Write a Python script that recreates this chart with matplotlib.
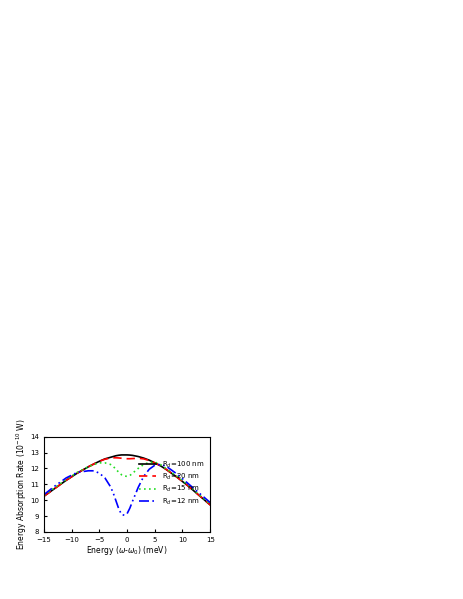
import matplotlib
matplotlib.use("Agg")
import matplotlib.pyplot as plt

x = [-15,-13,-11,-9,-7,-6,-5,-4,-3,-2.5,-2,-1.5,-1,-0.5,0,0.5,1,2,3,4,5,6,7,9,11,13,15]
r100 = [10.25,10.75,11.25,11.7,12.1,12.28,12.45,12.6,12.7,12.75,12.8,12.83,12.85,12.85,12.85,12.84,12.82,12.75,12.65,12.52,12.35,12.17,11.95,11.45,10.9,10.3,9.7]
r20  = [10.25,10.75,11.25,11.7,12.1,12.28,12.45,12.58,12.65,12.67,12.67,12.66,12.64,12.62,12.61,12.61,12.62,12.64,12.6,12.5,12.35,12.17,11.95,11.45,10.9,10.3,9.7]
r15  = [10.3,10.8,11.3,11.75,12.1,12.25,12.35,12.35,12.25,12.12,11.95,11.75,11.6,11.52,11.5,11.55,11.7,12.0,12.25,12.38,12.4,12.25,12.0,11.5,10.95,10.35,9.75]
r12  = [10.35,10.9,11.4,11.75,11.85,11.85,11.7,11.4,10.85,10.45,9.95,9.45,9.1,9.05,9.15,9.5,9.95,10.8,11.5,11.95,12.2,12.25,12.15,11.65,11.05,10.45,9.85]
labels = ["R$_d$=100 nm","R$_d$=20 nm","R$_d$=15 nm","R$_d$=12 nm"]

fig = plt.figure(figsize=(4.63,5.99), dpi=100)
ax = fig.add_axes([0.095,0.112,0.359,0.159])
ax.plot(x, r100, color="black", lw=1.2, label=labels[0])
ax.plot(x, r20, color="red", lw=1.2, ls=(0,(5,3)), label=labels[1])
ax.plot(x, r15, color="#22dd22", lw=1.2, ls=(0,(1,2)), label=labels[2])
ax.plot(x, r12, color="blue", lw=1.2, ls=(0,(6,2,1,2,1,2)), label=labels[3])
ax.set_xlim(-15,15); ax.set_ylim(8,14)
ax.set_xticks(range(-15,16,5)); ax.set_yticks(range(8,15))
ax.tick_params(labelsize=5, direction="in", length=2)
ax.set_xlabel("Energy ($\\omega$-$\\omega_0$) (meV)", fontsize=5.5, labelpad=1)
ax.set_ylabel("Energy Absorption Rate (10$^{-10}$ W)", fontsize=5.5, labelpad=1)
ax.legend(loc="lower right", bbox_to_anchor=(1.0,0.2), fontsize=5, frameon=False, handlelength=2.5, labelspacing=0.3)
fig.savefig("out.png", dpi=100)
